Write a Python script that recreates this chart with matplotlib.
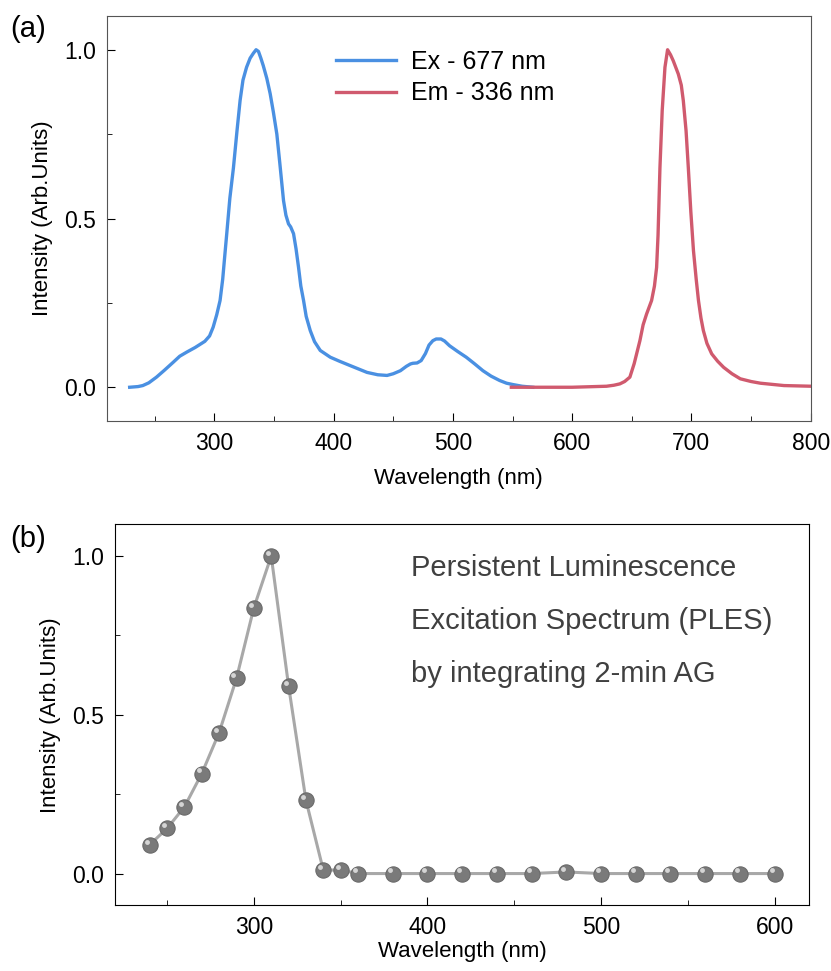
import matplotlib
matplotlib.use('Agg')
import matplotlib.pyplot as plt
import matplotlib.transforms as mtransforms
from matplotlib.ticker import MultipleLocator, FormatStrFormatter

plt.rcParams['font.family'] = ['Liberation Sans', 'DejaVu Sans']

# (a) excitation spectrum monitored at 677 nm
ex_wl = [229, 236, 240, 245, 251.5, 258, 265.5, 271, 276.8, 284, 292, 296, 299,
         302, 304.8, 307, 308.5, 310.4, 313, 316, 319, 321.6, 324, 327, 330,
         332.8, 335, 337, 339, 341, 344, 346.8, 349.5, 352.4, 355, 358, 360,
         362.2, 364, 366.4, 368.5, 370.6, 372.5, 374.8, 377, 380.4, 384, 388.8,
         397.2, 405, 414, 428, 437, 444.8, 450, 456, 461, 464.4, 466.4, 470,
         473.4, 477, 480, 483.2, 486, 490, 493, 497.2, 504, 511.2, 518, 525.2,
         532, 539.2, 545, 550.3, 558, 567]
ex_int = [0.0, 0.002, 0.005, 0.013, 0.03, 0.05, 0.074, 0.092, 0.104, 0.118,
          0.136, 0.152, 0.178, 0.215, 0.257, 0.32, 0.38, 0.455, 0.56, 0.65, 0.76,
          0.85, 0.91, 0.948, 0.975, 0.99, 1.0, 0.995, 0.975, 0.953, 0.915, 0.87,
          0.815, 0.75, 0.66, 0.553, 0.51, 0.484, 0.475, 0.455, 0.41, 0.355, 0.30,
          0.257, 0.21, 0.168, 0.135, 0.109, 0.089, 0.077, 0.064, 0.044, 0.037,
          0.035, 0.04, 0.049, 0.062, 0.069, 0.071, 0.072, 0.079, 0.10, 0.125,
          0.138, 0.143, 0.143, 0.137, 0.123, 0.106, 0.089, 0.07, 0.049, 0.033,
          0.020, 0.012, 0.008, 0.003, 0.0]

# (a) emission spectrum excited at 336 nm
em_wl = [549, 600, 628.8, 635, 640, 644, 648.4, 652, 656.8, 659.5, 662.4, 666.6,
         669, 670.8, 672, 673.6, 675.5, 677.8, 680, 682.5, 684.8, 689, 691.5,
         693.2, 695.5, 697.4, 699.5, 701.7, 704, 705.9, 708, 710, 713, 717, 722,
         727, 734, 741, 750, 757.8, 777.6, 800.5]
em_int = [0.0, 0.0, 0.003, 0.006, 0.01, 0.017, 0.03, 0.07, 0.138, 0.185, 0.217,
          0.257, 0.30, 0.355, 0.45, 0.65, 0.82, 0.948, 1.0, 0.985, 0.967, 0.928,
          0.895, 0.849, 0.76, 0.65, 0.52, 0.405, 0.32, 0.257, 0.205, 0.168, 0.13,
          0.099, 0.077, 0.059, 0.04, 0.025, 0.017, 0.012, 0.005, 0.003]

# (b) PLES points
ples_wl = [240, 250, 260, 270, 280, 290, 300, 310, 320, 330, 340, 350, 360, 380,
           400, 420, 440, 460, 480, 500, 520, 540, 560, 580, 600]
ples_int = [0.091, 0.142, 0.21, 0.315, 0.444, 0.615, 0.837, 1.0, 0.591, 0.231,
            0.011, 0.011, 0.0, 0.0, 0.0, 0.0, 0.0, 0.0, 0.005, 0.0, 0.0, 0.0,
            0.0, 0.0, 0.0]

fig = plt.figure(figsize=(8.31, 9.71), dpi=100)
ax1 = fig.add_axes([107/831, 1-421/971, (810.7-107)/831, (421-16)/971])
ax2 = fig.add_axes([115/831, 1-905.3/971, (809.3-115)/831, (905.3-524.3)/971])

blue = '#4a90e2'
red = '#d05a6e'

ax1.plot(ex_wl, ex_int, color=blue, lw=2.4, label='Ex - 677 nm')
ax1.plot(em_wl, em_int, color=red, lw=2.4, label='Em - 336 nm')
ax1.set_xlim(210, 800)
ax1.set_ylim(-0.1, 1.1)
ax1.legend(loc='upper left', bbox_to_anchor=(0.293, 0.972), frameon=False,
           fontsize=18, handlelength=2.4, handletextpad=0.6, labelspacing=0.3)
for s in ax1.spines.values():
    s.set_color('#555555')

ax2.plot(ples_wl, ples_int, color='#a8a8a8', lw=2.2, zorder=2)
ax2.plot(ples_wl, ples_int, ls='none', marker='o', ms=11, mfc='#7a7a7a',
         mec='#6a6a6a', mew=0.8, zorder=3)
shift = mtransforms.ScaledTranslation(-2.2/72, 2.2/72, fig.dpi_scale_trans)
ax2.plot(ples_wl, ples_int, ls='none', marker='o', ms=3.5, mfc='#e0e0e0',
         mec='none', alpha=0.9, zorder=4, transform=ax2.transData + shift)
ax2.set_xlim(220, 620)
ax2.set_ylim(-0.1, 1.1)
for txt, yy in [('Persistent Luminescence', 0.865),
                ('Excitation Spectrum (PLES)', 0.725),
                ('by integrating 2-min AG', 0.585)]:
    ax2.text(0.427, yy, txt, transform=ax2.transAxes, fontsize=21,
             color='#404040')

for ax in (ax1, ax2):
    ax.xaxis.set_major_locator(MultipleLocator(100))
    ax.xaxis.set_minor_locator(MultipleLocator(50))
    ax.yaxis.set_major_locator(MultipleLocator(0.5))
    ax.yaxis.set_minor_locator(MultipleLocator(0.25))
    ax.yaxis.set_major_formatter(FormatStrFormatter('%.1f'))
    ax.tick_params(which='both', direction='in', labelsize=16.5, pad=8)
    ax.tick_params(which='major', length=6)
    ax.tick_params(which='minor', length=3.5)
    ax.set_ylabel('Intensity (Arb.Units)', fontsize=16, labelpad=8)

ax1.set_xlabel('Wavelength (nm)', fontsize=16, labelpad=9)
ax2.set_xlabel('Wavelength (nm)', fontsize=16, labelpad=1)

fig.text(10/831, 1-37/971, '(a)', fontsize=21)
fig.text(10/831, 1-547/971, '(b)', fontsize=21)

fig.savefig('out.png', dpi=100)
